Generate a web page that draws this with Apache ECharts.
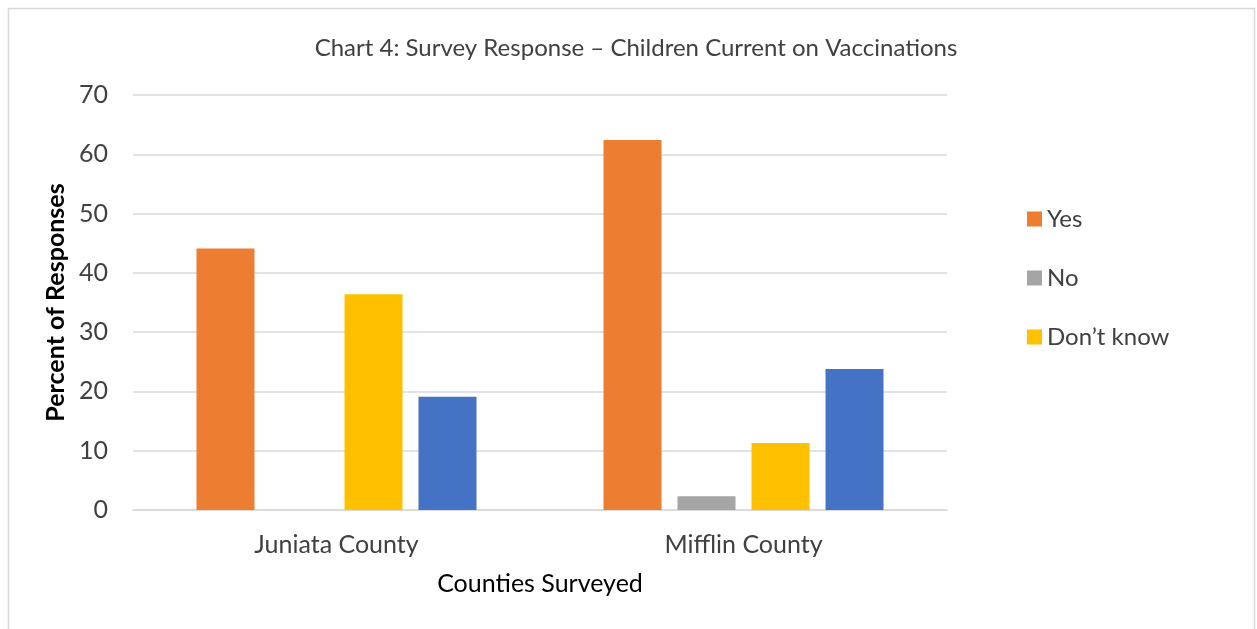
<!DOCTYPE html>
<html>
<head>
<meta charset="utf-8">
<script src="https://cdn.jsdelivr.net/npm/echarts@6/dist/echarts.min.js"></script>
<style>
html,body{margin:0;padding:0;background:#fff;}
#chart{width:1257px;height:629px;}
</style>
</head>
<body>
<div id="chart"></div>
<script>
const categories = ["Juniata County", "Mifflin County"];
const yesValues = [44.1, 62.4];
const noValues = [0, 2.3];
const dontKnowValues = [36.4, 11.3];
const otherValues = [19.1, 23.8];
const legendNames = ["Yes", "No", "Don\u2019t know"];
const yTicks = [0, 10, 20, 30, 40, 50, 60, 70];

const FONT = "Lato";
const chart = echarts.init(document.getElementById('chart'));
const barBase = { type: 'bar', barWidth: 58, barGap: '27.6%', barCategoryGap: '31%' };
chart.setOption({
  animation: false,
  backgroundColor: '#fff',
  graphic: [{
    type: 'rect', shape: { x: 8.5, y: 8.5, width: 1246, height: 660 },
    style: { fill: 'none', stroke: '#d9d9d9', lineWidth: 1.5 }, silent: true
  }],
  title: {
    text: 'Chart 4: Survey Response \u2013 Children Current on Vaccinations',
    left: 631, textAlign: 'center', top: 31,
    textStyle: { fontFamily: FONT, fontSize: 24, fontWeight: 'normal', color: '#404040' }
  },
  legend: {
    data: legendNames, orient: 'vertical', left: 1022, top: 202,
    itemWidth: 15, itemHeight: 15, itemGap: 35,
    icon: 'rect',
    textStyle: { fontFamily: FONT, fontSize: 24, color: '#404040' }
  },
  grid: { left: 133, right: 310, top: 95, bottom: 119 },
  xAxis: {
    type: 'category', data: categories,
    name: 'Counties Surveyed', nameLocation: 'middle', nameGap: 61,
    nameTextStyle: { fontFamily: FONT, fontSize: 25, color: '#000' },
    axisLine: { lineStyle: { color: '#d9d9d9', width: 1.5 } },
    axisTick: { show: false },
    axisLabel: { fontFamily: FONT, fontSize: 25, color: '#404040', margin: 22 }
  },
  yAxis: {
    type: 'value', min: yTicks[0], max: yTicks[yTicks.length - 1], interval: 10,
    name: 'Percent of Responses', nameLocation: 'middle', nameGap: 58,
    nameTextStyle: { fontFamily: FONT, fontSize: 25, fontWeight: 'bold', color: '#000' },
    axisLine: { show: false }, axisTick: { show: false },
    axisLabel: { fontFamily: FONT, fontSize: 25, color: '#404040', margin: 25 },
    splitLine: { lineStyle: { color: '#d9d9d9', width: 1.5 } }
  },
  series: [
    Object.assign({}, barBase, { name: 'Yes', data: yesValues, itemStyle: { color: '#ED7D31' } }),
    Object.assign({}, barBase, { name: 'No', data: noValues, itemStyle: { color: '#A5A5A5' } }),
    Object.assign({}, barBase, { name: 'Don\u2019t know', data: dontKnowValues, itemStyle: { color: '#FFC000' } }),
    Object.assign({}, barBase, { name: 'Other', data: otherValues, itemStyle: { color: '#4472C4' } })
  ]
});
</script>
</body>
</html>
